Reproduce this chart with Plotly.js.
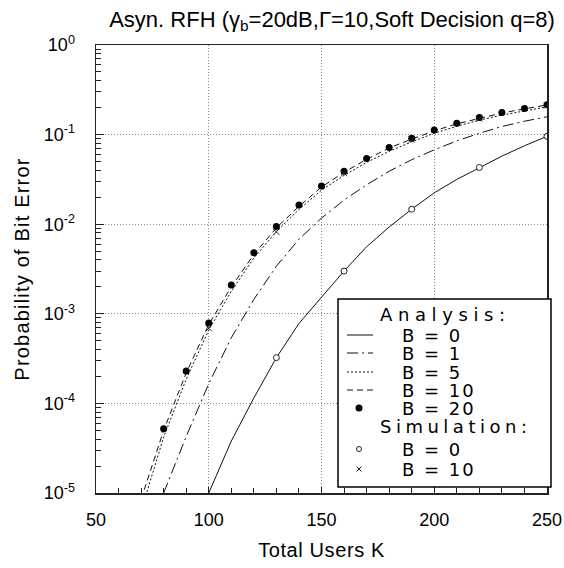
<!DOCTYPE html>
<html>
<head>
<meta charset="utf-8">
<script src="https://cdn.plot.ly/plotly-3.0.1.min.js"></script>
<style>html,body{margin:0;padding:0;background:#fff;}#chart{width:564px;height:568px;}</style>
</head>
<body>
<div id="chart"></div>
<script>
// ---- data ----
var kB0 = [100,110,120,130,140,150,160,170,180,190,200,210,220,230,240,250];
var pB0 = [1.0e-5,3.8e-5,1.15e-4,3.24e-4,7.8e-4,1.51e-3,3.0e-3,5.6e-3,9.3e-3,1.47e-2,2.24e-2,3.16e-2,4.3e-2,5.75e-2,7.5e-2,9.57e-2];

var kB1 = [80,90,100,110,120,130,140,150,160,170,180,190,200,210,220,230,240,250];
var pB1 = [1.0e-5,4.27e-5,1.66e-4,5.4e-4,1.45e-3,3.4e-3,6.8e-3,1.17e-2,1.86e-2,2.75e-2,3.9e-2,5.25e-2,6.76e-2,8.5e-2,0.1035,0.123,0.141,0.158];

var kB5 = [70,80,90,100,110,120,130,140,150,160,170,180,190,200,210,220,230,240,250];
var pB5 = [6.3e-6,4.2e-5,1.86e-4,6.6e-4,1.78e-3,4.2e-3,8.3e-3,1.46e-2,2.4e-2,3.5e-2,4.9e-2,6.5e-2,8.3e-2,0.1035,0.124,0.145,0.165,0.185,0.204];

var kB10 = [70,80,90,100,110,120,130,140,150,160,170,180,190,200,210,220,230,240,250];
var pB10 = [8.5e-6,5.0e-5,2.19e-4,7.6e-4,2.0e-3,4.6e-3,9.1e-3,1.58e-2,2.6e-2,3.8e-2,5.3e-2,7.1e-2,8.9e-2,0.110,0.132,0.152,0.174,0.194,0.214];

var kB20 = [80,90,100,110,120,130,140,150,160,170,180,190,200,210,220,230,240,250];
var pB20 = [5.2e-5,2.3e-4,7.9e-4,2.1e-3,4.8e-3,9.4e-3,1.64e-2,2.67e-2,3.9e-2,5.4e-2,7.2e-2,9.1e-2,0.1125,0.134,0.155,0.176,0.196,0.216];

var kSim = [130,160,190,220,250];
var pSimB0 = [3.24e-4,3.0e-3,1.47e-2,4.3e-2,9.57e-2];

var kSim10 = [100,130,160,190,220,250];
var pSimB10 = [6.9e-4,8.2e-3,3.7e-2,8.8e-2,0.151,0.211];

var yTickVals = [1e-5, 1e-4, 1e-3, 1e-2, 1e-1, 1];
var yTickText = ['10<sup>-5</sup>', '10<sup>-4</sup>', '10<sup>-3</sup>', '10<sup>-2</sup>', '10<sup>-1</sup>', '10<sup>0</sup>'];

var titleText = 'Asyn. RFH (γ<sub>b</sub>=20dB,Γ=10,Soft Decision q=8)';
var xTitle = 'Total Users K';
var yTitle = 'Probability of Bit Error';
var legendHeaders = ['Analysis:', 'Simulation:'];
var legendAnalysis = ['B = 0', 'B = 1', 'B = 5', 'B = 10', 'B = 20'];
var legendSimulation = ['B = 0', 'B = 10'];

// ---- layout helpers (pixel -> paper) ----
var W = 564, H = 568, ML = 96, MR = 17, MT = 45, MB = 75;
var PW = W - ML - MR, PH = H - MT - MB;
function px(x) { return (x - ML) / PW; }
function py(y) { return (H - MB - y) / PH; }

var FONT = 'Liberation Sans, Arial, Helvetica, sans-serif';
var LFONT = 'DejaVu Sans, Verdana, sans-serif';

var dashB1 = '11px,4px,2px,4px';
var dashB5 = '2px,2px';
var dashB10 = '6px,4px';

var traces = [
  {x: kB0, y: pB0, mode: 'lines', line: {color: '#111', width: 1}},
  {x: kB1, y: pB1, mode: 'lines', line: {color: '#111', width: 1, dash: dashB1}},
  {x: kB5, y: pB5, mode: 'lines', line: {color: '#111', width: 1, dash: dashB5}},
  {x: kB10, y: pB10, mode: 'lines', line: {color: '#111', width: 1, dash: dashB10}},
  {x: kB20, y: pB20, mode: 'markers', marker: {symbol: 'circle', size: 7, color: '#000'}},
  {x: kSim, y: pSimB0, mode: 'markers', marker: {symbol: 'circle', size: 6, color: '#fff', line: {color: '#222', width: 1}}},
  {x: kSim10, y: pSimB10, mode: 'markers', marker: {symbol: 'x-thin', size: 6, color: '#222', line: {color: '#222', width: 1}}}
];
traces.forEach(function(t){ t.showlegend = false; t.hoverinfo = 'skip'; });

// ---- custom legend ----
var boxL = 338, boxR = 551, boxT = 299, boxB = 487;
var rowsA = [335, 353, 372, 390, 408];
var rowsS = [449, 469];
var headY = [314, 426];
var sx0 = 347, sx1 = 373, sxc = 359;

var shapes = [
  {type: 'rect', xref: 'paper', yref: 'paper', x0: px(boxL), x1: px(boxR), y0: py(boxB), y1: py(boxT),
   line: {color: '#000', width: 1.5}, fillcolor: '#fff', layer: 'above'}
];
var sampleDash = ['solid', dashB1, dashB5, dashB10];
for (var i = 0; i < 4; i++) {
  shapes.push({type: 'line', xref: 'paper', yref: 'paper', x0: px(sx0), x1: px(sx1), y0: py(rowsA[i]), y1: py(rowsA[i]),
    line: {color: '#111', width: 1, dash: sampleDash[i]}, layer: 'above'});
}
shapes.push({type: 'circle', xref: 'paper', yref: 'paper', x0: px(sxc - 3.5), x1: px(sxc + 3.5), y0: py(rowsA[4] + 3.5), y1: py(rowsA[4] - 3.5),
  line: {color: '#000', width: 0}, fillcolor: '#000', layer: 'above'});
shapes.push({type: 'circle', xref: 'paper', yref: 'paper', x0: px(sxc - 2.5), x1: px(sxc + 2.5), y0: py(rowsS[0] + 2.5), y1: py(rowsS[0] - 2.5),
  line: {color: '#222', width: 1}, fillcolor: '#fff', layer: 'above'});
shapes.push({type: 'line', xref: 'paper', yref: 'paper', x0: px(sxc - 2.5), x1: px(sxc + 2.5), y0: py(rowsS[1] - 2.5), y1: py(rowsS[1] + 2.5),
  line: {color: '#222', width: 1}, layer: 'above'});
shapes.push({type: 'line', xref: 'paper', yref: 'paper', x0: px(sxc - 2.5), x1: px(sxc + 2.5), y0: py(rowsS[1] + 2.5), y1: py(rowsS[1] - 2.5),
  line: {color: '#222', width: 1}, layer: 'above'});

var annotations = [];
function addText(txt, xpix, ypix, spacing) {
  annotations.push({xref: 'paper', yref: 'paper', x: px(xpix), y: py(ypix), xanchor: 'left', yanchor: 'middle',
    text: '<span style="letter-spacing:' + spacing + 'px">' + txt + '</span>', showarrow: false,
    font: {family: LFONT, size: 18, color: '#000'}, borderpad: 0});
}
addText(legendHeaders[0], 379, headY[0], 5.6);
addText(legendHeaders[1], 379, headY[1], 4.5);
legendAnalysis.forEach(function(t, j){ addText(t, 401, rowsA[j], 2); });
legendSimulation.forEach(function(t, j){ addText(t, 401, rowsS[j], 2); });

var layout = {
  width: W, height: H,
  margin: {l: ML, r: MR, t: MT, b: MB},
  paper_bgcolor: '#fff', plot_bgcolor: '#fff',
  font: {family: FONT, color: '#000', size: 18},
  title: {text: titleText, font: {family: FONT, size: 22, color: '#000'},
          xref: 'container', x: 332 / W, xanchor: 'center', yref: 'container', y: 1 - 19 / H, yanchor: 'middle'},
  xaxis: {
    type: 'linear', range: [50, 250], tick0: 50, dtick: 50,
    ticks: 'inside', ticklen: 6, tickcolor: '#222', tickwidth: 1,
    minor: {dtick: 10, ticks: 'inside', ticklen: 5, tickcolor: '#222', showgrid: false},
    showgrid: true, gridcolor: '#8a8a8a', griddash: '1px,2px', gridwidth: 1,
    showline: true, linecolor: '#222', linewidth: 1.5, mirror: true, zeroline: false,
    tickfont: {family: FONT, size: 18, color: '#000'}, ticklabelstandoff: 10,
    title: {text: '<span style="letter-spacing:0.6px">' + xTitle + '</span>', font: {family: FONT, size: 20, color: '#000'}, standoff: 14},
    automargin: false
  },
  yaxis: {
    type: 'log', range: [-5, 0], tickmode: 'array', tickvals: yTickVals, ticktext: yTickText,
    ticks: 'inside', ticklen: 8, tickcolor: '#222', tickwidth: 1,
    minor: {dtick: 'D1', ticks: 'inside', ticklen: 5, tickcolor: '#222', showgrid: false},
    showgrid: true, gridcolor: '#8a8a8a', griddash: '1px,2px', gridwidth: 1,
    showline: true, linecolor: '#222', linewidth: 1.5, mirror: true, zeroline: false,
    tickfont: {family: FONT, size: 18, color: '#000'}, ticklabelstandoff: 16,
    title: {text: '<span style="letter-spacing:1.2px">' + yTitle + '</span>', font: {family: FONT, size: 20, color: '#000'}, standoff: 8},
    automargin: false
  },
  shapes: shapes,
  annotations: annotations,
  showlegend: false
};

Plotly.newPlot('chart', traces, layout, {staticPlot: true, displayModeBar: false});
</script>
</body>
</html>
